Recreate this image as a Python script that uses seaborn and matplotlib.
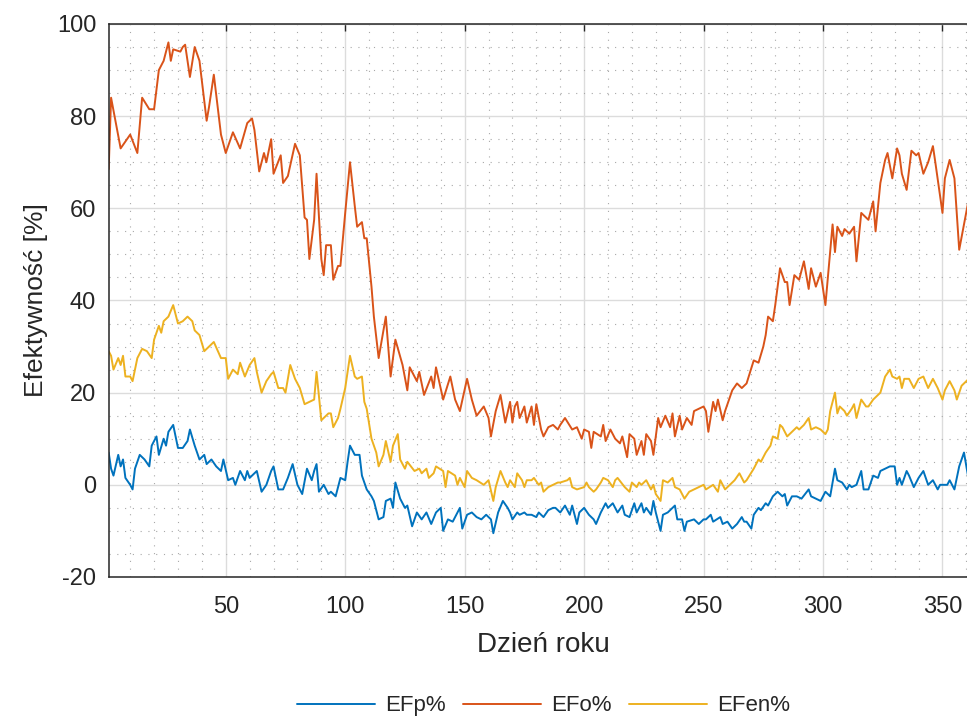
import matplotlib
matplotlib.use('Agg')
import matplotlib.pyplot as plt
from matplotlib.ticker import MultipleLocator
import seaborn as sns

# values (day of year -> efficiency in %)
days_o = [1, 2, 6, 10, 13, 15, 18, 20, 22, 24,
          26, 27, 28, 31, 32, 33, 35, 37, 39, 42,
          43, 45, 48, 50, 53, 56, 59, 61, 62, 64,
          66, 67, 69, 70, 73, 74, 76, 79, 81, 83,
          84, 85, 87, 88, 90, 91, 92, 94, 95, 97,
          98, 100, 102, 104, 105, 107, 108, 109, 111, 112,
          114, 117, 119, 121, 124, 126, 127, 130, 131, 133,
          136, 137, 138, 141, 144, 146, 148, 151, 153, 155,
          158, 160, 161, 163, 165, 167, 169, 170, 171, 172,
          173, 175, 176, 178, 179, 180, 182, 183, 185, 187,
          189, 190, 192, 195, 197, 199, 200, 202, 203, 204,
          207, 208, 209, 211, 213, 215, 216, 218, 219, 221,
          222, 224, 225, 226, 228, 229, 231, 232, 234, 236,
          237, 238, 240, 241, 243, 245, 246, 248, 250, 251,
          252, 254, 255, 256, 258, 259, 261, 262, 264, 266,
          268, 271, 273, 275, 276, 277, 279, 280, 282, 284,
          285, 286, 288, 290, 292, 294, 295, 297, 299, 301,
          303, 304, 305, 306, 308, 309, 311, 313, 314, 316,
          319, 321, 322, 324, 326, 327, 329, 331, 332, 333,
          335, 337, 339, 340, 342, 344, 346, 347, 350, 351,
          353, 355, 357, 359, 361]
efo = [68.5, 84, 73, 76, 72, 84, 81.5, 81.5, 90, 92,
       96, 92, 94.5, 94, 95, 95.5, 88.5, 95, 92, 79,
       82, 89, 76, 72, 76.5, 73, 78.5, 79.5, 77, 68,
       72, 70, 75, 67.5, 71.5, 65.5, 67, 74, 71.5, 58,
       57.5, 49, 57.5, 67.5, 49, 45.5, 52, 52, 44.5, 47.5,
       47.5, 59, 70, 60.5, 56, 57, 53.5, 53.5, 43, 36.5,
       27.5, 36.5, 23.5, 31.5, 26, 20.5, 25.5, 22.5, 24.5, 19.5,
       23.5, 21, 25.5, 18.5, 23.5, 18.5, 16, 23, 18.5, 15,
       17, 14.5, 10.5, 16, 19.5, 13.5, 18, 13.5, 17, 18,
       14.5, 17, 13.5, 17, 13, 17.5, 12, 10.5, 12.5, 13,
       12, 13, 14.5, 12, 12.5, 10, 12, 11.5, 8, 11.5,
       10.5, 13, 9.5, 12, 10, 9, 10.5, 6, 11, 10,
       6.5, 9.5, 6.5, 11, 9.5, 6.5, 14.5, 12.5, 15, 12.5,
       15.5, 10.5, 15, 12, 14.5, 13, 16, 16.5, 17, 16,
       11.5, 18, 16, 18.5, 14, 16, 19, 20.5, 22, 21,
       22, 27, 26.5, 30, 32.5, 36.5, 35.5, 39, 47, 44,
       44, 39, 45.5, 44.5, 48.5, 42.5, 47, 43, 46, 39,
       50.5, 56.5, 50.5, 56, 54, 55.5, 54.5, 56, 48.5, 59,
       57.5, 61.5, 55, 65.5, 70.5, 72, 66.5, 73, 71.5, 67.5,
       64, 72.5, 71.5, 72, 67.5, 70, 73.5, 70, 59, 66.5,
       70.5, 66.5, 51, 56.5, 62]

days_en = [1, 2, 3, 5, 6, 7, 8, 10, 11, 13,
           15, 17, 19, 20, 22, 23, 24, 26, 28, 30,
           32, 34, 36, 37, 39, 41, 43, 45, 48, 50,
           51, 53, 55, 56, 58, 60, 62, 63, 65, 67,
           69, 70, 72, 74, 75, 77, 79, 81, 83, 85,
           87, 88, 90, 91, 93, 94, 95, 97, 98, 100,
           102, 104, 105, 107, 108, 109, 111, 113, 114, 116,
           117, 119, 120, 122, 123, 125, 126, 129, 131, 132,
           134, 135, 137, 138, 141, 142, 143, 146, 147, 148,
           150, 151, 153, 155, 158, 160, 162, 163, 165, 167,
           168, 169, 171, 172, 174, 175, 176, 178, 179, 181,
           182, 183, 185, 187, 189, 190, 193, 194, 195, 197,
           200, 201, 202, 204, 205, 207, 208, 210, 212, 213,
           214, 217, 219, 220, 222, 223, 224, 226, 228, 229,
           230, 232, 233, 235, 237, 238, 240, 242, 244, 246,
           248, 250, 251, 254, 256, 257, 259, 261, 263, 265,
           267, 268, 271, 273, 274, 276, 278, 279, 281, 282,
           283, 285, 287, 289, 290, 292, 294, 295, 297, 299,
           301, 302, 303, 305, 306, 307, 309, 310, 312, 313,
           314, 316, 318, 319, 321, 323, 324, 326, 328, 329,
           331, 332, 333, 334, 336, 338, 340, 342, 344, 346,
           348, 350, 351, 353, 355, 356, 358, 361]
efen = [29, 28, 25, 27.5, 26, 28, 23.5, 23.5, 22.5, 27.5,
        29.5, 29, 27.5, 31.5, 34.5, 33, 35.5, 36.5, 39, 35,
        35.5, 36.5, 35.5, 33.5, 32.5, 29, 30, 31, 27.5, 27.5,
        23, 25, 24, 26.5, 23.5, 26, 27.5, 24.5, 20, 22.5,
        24, 24.5, 21, 21, 20, 26, 23, 21, 17.5, 18,
        18.5, 24.5, 14, 14.5, 15.5, 15.5, 12.5, 14.5, 16.5, 21,
        28, 23.5, 23, 23.5, 18, 16.5, 10, 7, 4, 6.5,
        9.5, 5, 8.5, 11, 5.5, 3.5, 5, 3, 3.5, 2.5,
        3.5, 1.5, 2.5, 4, 3, -0.5, 3, 2, 0, 1.5,
        -0.5, 3, 1.5, 1, 0, 1, -3.5, -0.5, 3, 0.5,
        -0.5, 1, -0.5, 2.5, 1, -0.5, 1, 1, 1.5, 0,
        0.5, -1.5, -0.5, 0, 0.5, 0.5, 1, 1.5, -0.5, -1,
        -0.5, 0.5, -0.5, -1.5, -1, 0.5, 1.5, 1, -0.5, 1,
        1.5, -0.5, -1.5, 0.5, -0.5, 0.5, 0, 1, -1, 0,
        -2, -3.5, 1, 0.5, 1.5, -0.5, -1, -3, -1.5, -1,
        -0.5, 0, -1, 0, -1.5, 1, -1, 0, 1, 2.5,
        0.5, 1, 3.5, 5.5, 5, 7, 8.5, 10.5, 10, 13,
        12.5, 10.5, 11.5, 12.5, 12, 13, 14.5, 12, 12.5, 12,
        11, 12, 16, 20, 15.5, 17, 16, 15, 16.5, 17.5,
        14.5, 18.5, 17, 17, 18.5, 19.5, 20, 23.5, 25, 23.5,
        23, 23.5, 21, 23, 23, 21, 23, 23.5, 21, 23,
        21, 18.5, 20.5, 22.5, 20.5, 18.5, 21.5, 23]

days_p = [1, 2, 3, 5, 6, 7, 8, 10, 11, 12,
          14, 16, 18, 19, 21, 22, 24, 25, 26, 28,
          30, 32, 34, 35, 37, 39, 41, 42, 44, 46,
          48, 49, 51, 53, 54, 56, 58, 59, 60, 63,
          65, 67, 69, 70, 72, 74, 76, 78, 80, 82,
          84, 86, 87, 88, 89, 91, 93, 94, 96, 98,
          100, 101, 102, 104, 106, 107, 109, 111, 112, 114,
          116, 117, 119, 120, 121, 123, 125, 126, 128, 130,
          132, 134, 136, 138, 140, 141, 143, 145, 148, 149,
          151, 153, 155, 157, 159, 161, 162, 164, 166, 168,
          169, 170, 172, 173, 175, 176, 178, 180, 181, 183,
          185, 187, 188, 190, 192, 194, 195, 197, 198, 200,
          202, 204, 205, 207, 209, 210, 212, 213, 214, 216,
          217, 219, 221, 222, 224, 225, 226, 228, 229, 230,
          232, 233, 235, 237, 238, 239, 241, 242, 243, 246,
          248, 250, 251, 253, 254, 257, 258, 260, 262, 264,
          266, 267, 268, 270, 271, 273, 274, 276, 277, 279,
          281, 283, 284, 285, 287, 289, 291, 294, 295, 297,
          299, 301, 303, 305, 306, 308, 310, 311, 312, 314,
          316, 317, 319, 321, 323, 324, 326, 328, 330, 331,
          332, 333, 335, 336, 338, 340, 342, 344, 346, 348,
          349, 352, 353, 355, 357, 359, 361]
efp = [7, 3.5, 2, 6.5, 4, 5.5, 1.5, 0, -1, 3.5,
       6.5, 5.5, 4, 8.5, 10.5, 6.5, 10, 8.5, 11.5, 13,
       8, 8, 9.5, 12, 8.5, 5.5, 6.5, 4.5, 5.5, 4,
       3, 5.5, 1, 1.5, 0, 3, 1, 3, 1.5, 3,
       -1.5, 0, 3, 4, -1, -1, 1.5, 4.5, 0, -2,
       3.5, 1, 3, 4.5, -1.5, 0, -2, -1.5, -2.5, 1.5,
       1, 5, 8.5, 6.5, 6.5, 2, -1, -2.5, -3.5, -7.5,
       -7, -3.5, -3, -5, 0.5, -3, -5, -4.5, -9, -6,
       -7.5, -6, -8.5, -6, -5, -10, -7.5, -8, -5, -9.5,
       -6.5, -6, -7, -7.5, -6.5, -7.5, -10.5, -6, -3.5, -5,
       -6, -7.5, -6, -6.5, -6, -6.5, -6.5, -7, -6, -7,
       -5.5, -5, -5, -6, -4.5, -6.5, -4.5, -8.5, -6, -5,
       -6.5, -7.5, -8.5, -6, -4, -5, -4, -5, -6, -4.5,
       -6.5, -7, -4, -6, -4, -6, -5, -6.5, -3.5, -6,
       -10, -6.5, -6, -5, -4.5, -7.5, -7.5, -10, -8, -7.5,
       -8.5, -7.5, -7.5, -6.5, -8, -7, -8.5, -8, -9.5, -8.5,
       -7, -8, -8, -9.5, -6.5, -5, -5.5, -4, -4.5, -2.5,
       -1.5, -2.5, -2, -4.5, -2.5, -2.5, -3, -1, -2.5, -3,
       -3.5, -1.5, -2.5, 3.5, 1, 0.5, -1, 0, -0.5, 0,
       3, -1, -1, 2, 1.5, 3, 3.5, 4, 4, 0,
       1.5, 0, 3, 2, -0.5, 1.5, 3, 0, 1, -1,
       0, 0, 1, -1, 4, 7, 1]

series = [('EFp%', days_p, efp, '#0072BD'),
          ('EFo%', days_o, efo, '#D95319'),
          ('EFen%', days_en, efen, '#EDB120')]

sns.set_theme(style='white')
plt.rcParams['font.family'] = ['Liberation Sans', 'DejaVu Sans']
plt.rcParams['axes.unicode_minus'] = False

fig = plt.figure(figsize=(9.67, 7.18), dpi=100)
# axes runs past the right edge, as in the cropped original
ax = fig.add_axes([0.1124, 0.1964, 0.8993, 0.7702])

for name, d, v, c in series:
    sns.lineplot(x=d, y=v, ax=ax, color=c, linewidth=1.4, label=name,
                 estimator=None, sort=False)

ax.set_xlim(1, 365)
ax.set_ylim(-20, 100)
ax.set_xticks(range(50, 351, 50))
ax.set_yticks(range(-20, 101, 20))
ax.xaxis.set_minor_locator(MultipleLocator(10))
ax.yaxis.set_minor_locator(MultipleLocator(5))
ax.grid(which='major', color='#dcdcdc', linewidth=1.0)
ax.grid(which='minor', color='#a8a8a8', linestyle=(0, (1, 6)), linewidth=0.8)
ax.set_axisbelow(True)
ax.tick_params(which='major', direction='in', top=True, right=True, length=5,
               width=1, color='#262626', labelsize=17, labelcolor='#262626')
ax.tick_params(axis='x', which='major', pad=14)
ax.tick_params(axis='y', which='major', pad=9)
ax.tick_params(which='minor', length=0)
for s in ax.spines.values():
    s.set_color('#262626')
    s.set_linewidth(1.1)

ax.set_xlabel('Dzień roku', fontsize=20, color='#262626', labelpad=10)
ax.set_ylabel('Efektywność [%]', fontsize=19, color='#262626', labelpad=6)

ax.legend(loc='center', bbox_to_anchor=(0.5, -0.233), ncol=3, frameon=False,
          fontsize=16, handlelength=3.5, handletextpad=0.45, columnspacing=0.8)

fig.savefig('out.png', dpi=100)
